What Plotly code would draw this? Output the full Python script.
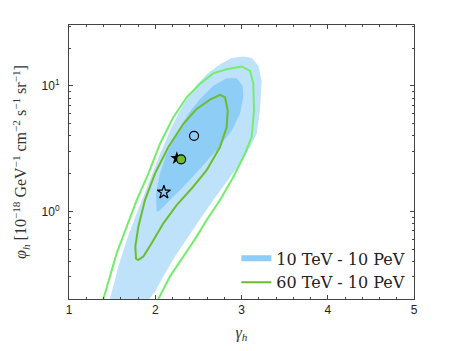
import plotly.graph_objects as go

# outer (light blue) region, 10 TeV - 10 PeV
outer_gamma = [1.475, 1.572, 1.669, 1.785, 1.920, 2.055, 2.190, 2.326, 2.461, 2.596,
               2.751, 2.886, 3.021, 3.118, 3.195, 3.233, 3.214, 3.176, 3.099, 2.983,
               2.828, 2.673, 2.538, 2.384, 2.229, 2.094, 1.997, 1.931]
outer_phi = [0.200, 0.364, 0.592, 0.964, 1.67, 2.88, 4.70, 7.19, 9.75, 12.4,
             14.9, 16.7, 17.2, 16.7, 14.5, 11.0, 6.37, 4.16, 3.26, 2.40,
             1.72, 1.23, 0.906, 0.629, 0.436, 0.303, 0.230, 0.200]

# inner (medium blue) region, 10 TeV - 10 PeV
inner_gamma = [2.016, 2.009, 2.055, 2.132, 2.248, 2.384, 2.519, 2.673, 2.828, 2.944,
               3.013, 3.021, 2.983, 2.886, 2.712, 2.519, 2.326, 2.171, 2.055, 2.016]
inner_phi = [0.993, 1.39, 2.00, 2.88, 4.16, 5.99, 7.88, 10.05, 11.5, 11.5,
             10.05, 8.12, 5.99, 4.42, 3.07, 2.19, 1.57, 1.23, 1.02, 0.993]

# outer contour, 60 TeV - 10 PeV
outer60_gamma = [2.036, 2.171, 2.326, 2.480, 2.596, 2.751, 2.905, 3.040, 3.118, 3.145,
                 3.137, 3.099, 3.002, 2.828, 2.673, 2.519, 2.364, 2.210, 2.055, 1.920,
                 1.785, 1.669, 1.553, 1.475, 1.398]
outer60_phi = [0.200, 0.303, 0.436, 0.629, 0.853, 1.23, 1.88, 2.88, 3.91, 6.37,
               10.4, 13.2, 14.3, 13.6, 12.6, 10.4, 8.12, 5.64, 3.46, 2.00,
               1.23, 0.755, 0.464, 0.303, 0.200]

# inner contour, 60 TeV - 10 PeV
inner60_gamma = [1.777, 1.769, 1.804, 1.881, 1.997, 2.152, 2.326, 2.480, 2.635, 2.751,
                 2.809, 2.840, 2.828, 2.751, 2.596, 2.422, 2.248, 2.094, 1.958, 1.862,
                 1.804, 1.777]
inner60_phi = [0.416, 0.524, 0.755, 1.23, 2.00, 3.26, 4.99, 6.56, 7.78, 8.48,
               8.12, 6.37, 4.70, 3.26, 2.13, 1.52, 1.12, 0.803, 0.557, 0.436,
               0.410, 0.416]

# best fits / other results
open_circle = (2.45, 4.0)
green_circle = (2.30, 2.6)
filled_star = (2.25, 2.65)
open_star = (2.10, 1.42)

light_blue = "#bfe2fb"
mid_blue = "#8ecdf6"
light_green = "#72ee6e"
dark_green = "#6cbd2c"
serif = "Liberation Serif, DejaVu Serif, serif"
sans = "Liberation Sans, Arial, sans-serif"

fig = go.Figure()

fig.add_trace(go.Scatter(x=outer_gamma, y=outer_phi, fill="toself", fillcolor=light_blue,
                         mode="none", showlegend=False, hoverinfo="skip"))
fig.add_trace(go.Scatter(x=inner_gamma, y=inner_phi, fill="toself", fillcolor=mid_blue,
                         mode="none", name="10 TeV - 10 PeV"))
fig.add_trace(go.Scatter(x=outer60_gamma, y=outer60_phi, mode="lines",
                         line=dict(color=light_green, width=2), showlegend=False))
fig.add_trace(go.Scatter(x=inner60_gamma, y=inner60_phi, mode="lines",
                         line=dict(color=dark_green, width=2), name="60 TeV - 10 PeV"))

fig.add_trace(go.Scatter(x=[open_circle[0]], y=[open_circle[1]], mode="markers",
                         marker=dict(symbol="circle-open", size=9, color="black",
                                     line=dict(width=1.2)), showlegend=False))
fig.add_trace(go.Scatter(x=[filled_star[0]], y=[filled_star[1]], mode="markers",
                         marker=dict(symbol="star", size=10, color="black"), showlegend=False))
fig.add_trace(go.Scatter(x=[green_circle[0]], y=[green_circle[1]], mode="markers",
                         marker=dict(symbol="circle", size=9, color=dark_green,
                                     line=dict(color="black", width=1.2)), showlegend=False))
fig.add_trace(go.Scatter(x=[open_star[0]], y=[open_star[1]], mode="markers",
                         marker=dict(symbol="star-open", size=10, color="black",
                                     line=dict(width=1.2)), showlegend=False))

minor_y = [m * 10 ** e for e in (-1, 0, 1) for m in range(2, 10)]
minor_y = [v for v in minor_y if 0.2 <= v <= 30]

# the page body adds 8 px around the figure, so the figure is made 8 px smaller
fig.update_layout(
    width=449, height=343,
    margin=dict(l=61, r=43, t=17, b=52),
    plot_bgcolor="white", paper_bgcolor="white",
    legend=dict(x=0.485, y=0.21, xanchor="left", yanchor="top",
                bgcolor="rgba(0,0,0,0)", font=dict(family="DejaVu Serif, serif", size=16, color="#222"),
                tracegroupgap=0, itemwidth=30),
    xaxis=dict(range=[1, 5], tickvals=[1, 2, 3, 4, 5], ticks="inside", ticklen=4,
               showline=True, linecolor="#444", linewidth=1, mirror="ticks",
               showgrid=False, zeroline=False, tickcolor="#444",
               tickfont=dict(family=sans, size=12, color="#222"),
               minor=dict(dtick=0.2, ticks="inside", ticklen=2, tickcolor="#444"),
               title=dict(text="<i>γ</i><sub><i>h</i></sub>", standoff=10,
                          font=dict(family=serif, size=16, color="#333"))),
    yaxis=dict(type="log", range=[-0.699, 1.486], tickvals=[1, 10],
               ticktext=["10<sup>0</sup>", "10<sup>1</sup>"], ticks="inside", ticklen=4,
               ticklabelstandoff=6,
               showline=True, linecolor="#444", linewidth=1, mirror="ticks",
               showgrid=False, zeroline=False, tickcolor="#444",
               tickfont=dict(family=sans, size=12, color="#222"),
               minor=dict(tickvals=minor_y, ticks="inside", ticklen=2, tickcolor="#444"),
               title=dict(text="<i>φ</i><sub><i>h</i></sub> [10<sup>−18</sup> GeV<sup>−1</sup> cm<sup>−2</sup> s<sup>−1</sup> sr<sup>−1</sup>]",
                          standoff=10, font=dict(family=serif, size=16, color="#333"))),
)

fig.write_html("out.html")
